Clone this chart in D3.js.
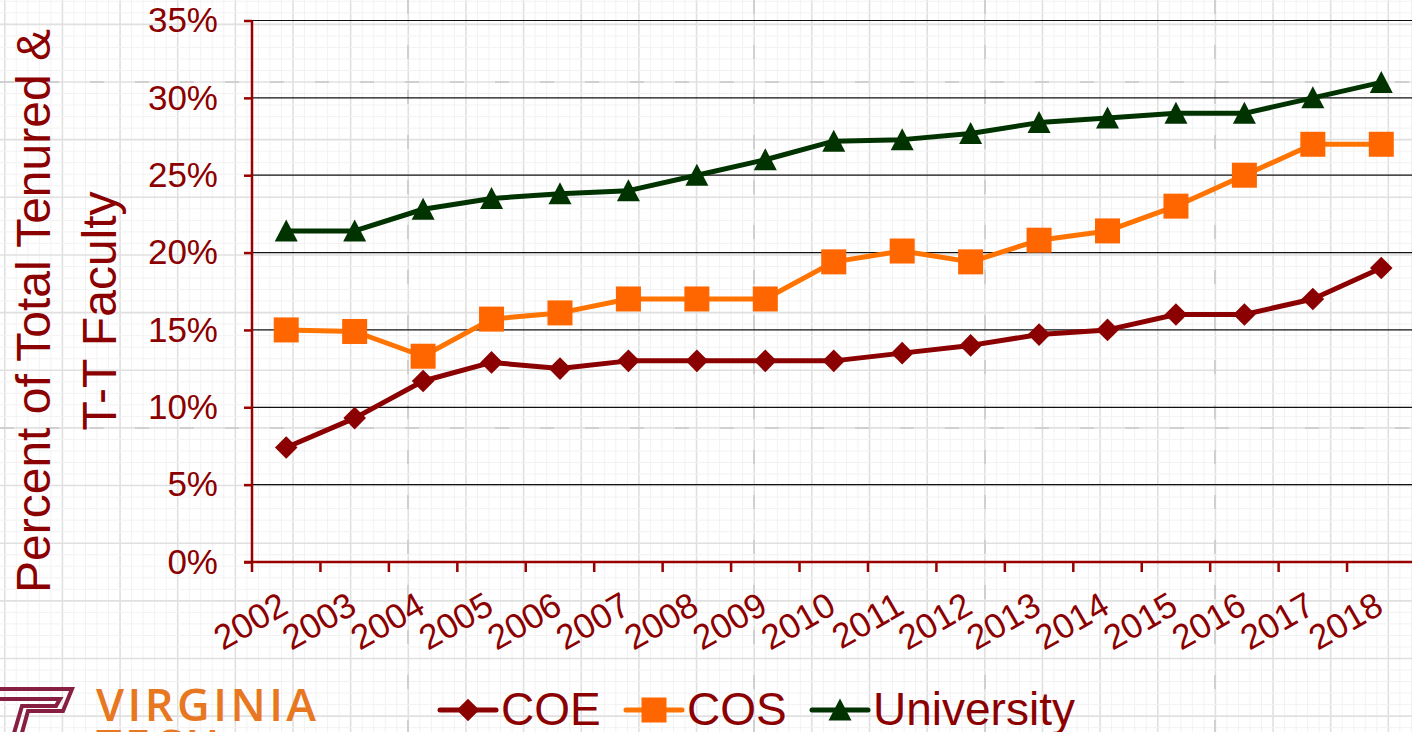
<!DOCTYPE html>
<html>
<head>
<meta charset="utf-8">
<script src="https://cdn.jsdelivr.net/npm/d3@7"></script>
<style>
body { margin: 0; background: #fff; overflow: hidden; }
svg { display: block; }
</style>
</head>
<body>
<div id="svgcontainer"></div>
<script>
var width = 1412;
var height = 732;

// data (percent)
var years = ["2002", "2003", "2004", "2005", "2006", "2007", "2008", "2009", "2010",
             "2011", "2012", "2013", "2014", "2015", "2016", "2017", "2018"];
var coe = [7.4, 9.3, 11.7, 12.9, 12.5, 13.0, 13.0, 13.0, 13.0, 13.5, 14.0, 14.7, 15.0, 16.0, 16.0, 17.0, 19.0];
var cos = [15.0, 14.9, 13.3, 15.7, 16.1, 17.0, 17.0, 17.0, 19.4, 20.1, 19.4, 20.8, 21.4, 23.0, 25.0, 27.0, 27.0];
var university = [21.4, 21.4, 22.8, 23.5, 23.8, 24.0, 25.0, 26.0, 27.2, 27.3, 27.7, 28.4, 28.7, 29.0, 29.0, 30.0, 31.0];
var yTicks = [0, 5, 10, 15, 20, 25, 30, 35];
var seriesNames = ["COE", "COS", "University"];

var textColor = "#8b0000";
var axisColor = "#990000";
var font = "'Liberation Sans', Arial, sans-serif";

var series = [
   { name: seriesNames[0], values: coe, line: "#8b0000", fill: "#8b0000", shape: "diamond" },
   { name: seriesNames[1], values: cos, line: "#ff7300", fill: "#ff6600", shape: "square" },
   { name: seriesNames[2], values: university, line: "#003300", fill: "#003300", shape: "triangle" }
];

var plotLeft = 252, plotRight = 1415.5, plotTop = 20.5, plotBottom = 562;

var svg = d3.select("#svgcontainer")
   .append("svg")
   .attr("width", width)
   .attr("height", height);

// graph paper background
var bg = svg.append("g");
var minor = 57.65 / 5;
function isMajor(d) { return ((d % 5) + 5) % 5 == 0; }
bg.selectAll(".vm").data(d3.range(-30, 100)).enter().append("line")
   .attr("x1", function(d) { return 293 + d * minor; })
   .attr("x2", function(d) { return 293 + d * minor; })
   .attr("y1", 0).attr("y2", height)
   .attr("stroke", function(d) { return isMajor(d) ? "#e0e0e0" : "#f2f2f2"; })
   .attr("stroke-width", function(d) { return isMajor(d) ? 1.6 : 1; });
bg.selectAll(".hm").data(d3.range(-10, 60)).enter().append("line")
   .attr("y1", function(d) { return 82 + d * minor; })
   .attr("y2", function(d) { return 82 + d * minor; })
   .attr("x1", 0).attr("x2", width)
   .attr("stroke", function(d) { return isMajor(d) ? "#e0e0e0" : "#f2f2f2"; })
   .attr("stroke-width", function(d) { return isMajor(d) ? 1.6 : 1; });
// dashed guides
bg.selectAll(".vg").data([408, 754, 985, 1215]).enter().append("line")
   .attr("x1", function(d) { return d; }).attr("x2", function(d) { return d; })
   .attr("y1", 0).attr("y2", height)
   .attr("stroke", "#d0d0d0").attr("stroke-width", 2)
   .attr("stroke-dasharray", "14,31");
bg.selectAll(".hg").data([82, 428]).enter().append("line")
   .attr("y1", function(d) { return d; }).attr("y2", function(d) { return d; })
   .attr("x1", 0).attr("x2", width)
   .attr("stroke", "#d0d0d0").attr("stroke-width", 2)
   .attr("stroke-dasharray", "14,31");

var x = d3.scaleBand().domain(years).range([plotLeft, plotRight]);
var y = d3.scaleLinear().domain([0, 35]).range([plotBottom, plotTop]);
var cx = function(i) { return x(years[i]) + x.bandwidth() / 2; };

// horizontal gridlines
svg.append("g").selectAll("line")
   .data(yTicks.slice(1))
   .enter().append("line")
   .attr("x1", plotLeft).attr("x2", width)
   .attr("y1", function(d) { return y(d); })
   .attr("y2", function(d) { return y(d); })
   .attr("stroke", "#111")
   .attr("stroke-width", 1.2);

// y axis
var yAxis = svg.append("g")
   .attr("transform", "translate(" + plotLeft + ",0)")
   .call(d3.axisLeft(y).tickValues(yTicks).tickSize(8).tickPadding(26)
      .tickFormat(function(d) { return d + "%"; }));
yAxis.select(".domain").attr("stroke", axisColor).attr("stroke-width", 2.5)
   .attr("d", "M0," + plotTop + "V" + plotBottom);
yAxis.selectAll(".tick line").attr("stroke", axisColor).attr("stroke-width", 2.5);
yAxis.selectAll(".tick text")
   .attr("fill", textColor)
   .attr("font-family", font)
   .attr("font-size", "35px");

// x axis (ticks between categories)
var xAxis = svg.append("g");
xAxis.append("line")
   .attr("x1", plotLeft - 8).attr("x2", plotRight)
   .attr("y1", plotBottom).attr("y2", plotBottom)
   .attr("stroke", axisColor).attr("stroke-width", 2.5);
xAxis.selectAll(".xt")
   .data(years.concat(["end"]))
   .enter().append("line")
   .attr("x1", function(d) { return d == "end" ? plotRight : x(d); })
   .attr("x2", function(d) { return d == "end" ? plotRight : x(d); })
   .attr("y1", plotBottom).attr("y2", plotBottom + 10)
   .attr("stroke", axisColor).attr("stroke-width", 2.5);
xAxis.selectAll("text")
   .data(years)
   .enter().append("text")
   .attr("transform", function(d) {
      return "translate(" + (x(d) + x.bandwidth() / 2 + 4) + "," + (plotBottom + 50) + ") rotate(-30)";
   })
   .attr("text-anchor", "end")
   .attr("fill", textColor)
   .attr("font-family", font)
   .attr("font-size", "35px")
   .text(function(d) { return d; });

// y axis title
var title = svg.append("g")
   .attr("font-family", font)
   .attr("font-size", "48px")
   .attr("fill", textColor)
   .attr("text-anchor", "middle");
title.append("text")
   .attr("transform", "translate(50,311) rotate(-90)")
   .text("Percent of Total Tenured &");
title.append("text")
   .attr("transform", "translate(116,311) rotate(-90)")
   .text("T-T Faculty");

function marker(sel, shape, fill) {
   if (shape == "diamond") {
      sel.append("rect").attr("x", -8).attr("y", -8).attr("width", 16).attr("height", 16)
         .attr("transform", "rotate(45)").attr("fill", fill);
   } else if (shape == "square") {
      sel.append("rect").attr("x", -12.5).attr("y", -12.5).attr("width", 25).attr("height", 25)
         .attr("fill", fill);
   } else {
      sel.append("path").attr("d", "M0,-11.5L11.5,10.5L-11.5,10.5Z").attr("fill", fill);
   }
}

var line = d3.line()
   .x(function(d, i) { return cx(i); })
   .y(function(d) { return y(d); });

series.forEach(function(s) {
   var g = svg.append("g");
   g.append("path")
      .attr("d", line(s.values))
      .attr("fill", "none")
      .attr("stroke", s.line)
      .attr("stroke-width", 5)
      .attr("stroke-linejoin", "round");
   g.selectAll(".m")
      .data(s.values)
      .enter().append("g")
      .attr("transform", function(d, i) { return "translate(" + cx(i) + "," + y(d) + ")"; })
      .each(function() { marker(d3.select(this), s.shape, s.fill); });
});

// legend
var legendX = [440, 626, 812];
var legend = svg.append("g");
series.forEach(function(s, i) {
   var lg = legend.append("g").attr("transform", "translate(" + legendX[i] + ",710)");
   lg.append("line").attr("x1", 0).attr("x2", 56).attr("y1", 0).attr("y2", 0)
      .attr("stroke", s.line).attr("stroke-width", 5).attr("stroke-linecap", "round");
   marker(lg.append("g").attr("transform", "translate(28,0)"), s.shape, s.fill);
   lg.append("text")
      .attr("x", 61).attr("y", 15)
      .attr("fill", textColor)
      .attr("font-family", font)
      .attr("font-size", "46px")
      .text(s.name);
});

// logo (partly off the bottom edge)
var logo = svg.append("g");
logo.append("path")
   .attr("d", "M-10,689L72,689L63,711L28,711L20,740M-10,699L60,699L56,706L22,706L12,740")
   .attr("fill", "none")
   .attr("stroke", "#861f41")
   .attr("stroke-width", 4)
   .attr("stroke-linejoin", "miter");
logo.append("text")
   .attr("x", 96).attr("y", 721)
   .attr("fill", "#e87722")
   .attr("font-family", "'Open Sans', sans-serif")
   .attr("font-weight", 600)
   .attr("font-size", "45px")
   .attr("letter-spacing", "3.5px")
   .text("VIRGINIA");
logo.append("text")
   .attr("x", 96).attr("y", 762)
   .attr("fill", "#e87722")
   .attr("font-family", "'Open Sans', sans-serif")
   .attr("font-weight", 600)
   .attr("font-size", "45px")
   .attr("letter-spacing", "3.5px")
   .text("TECH");
</script>
</body>
</html>
